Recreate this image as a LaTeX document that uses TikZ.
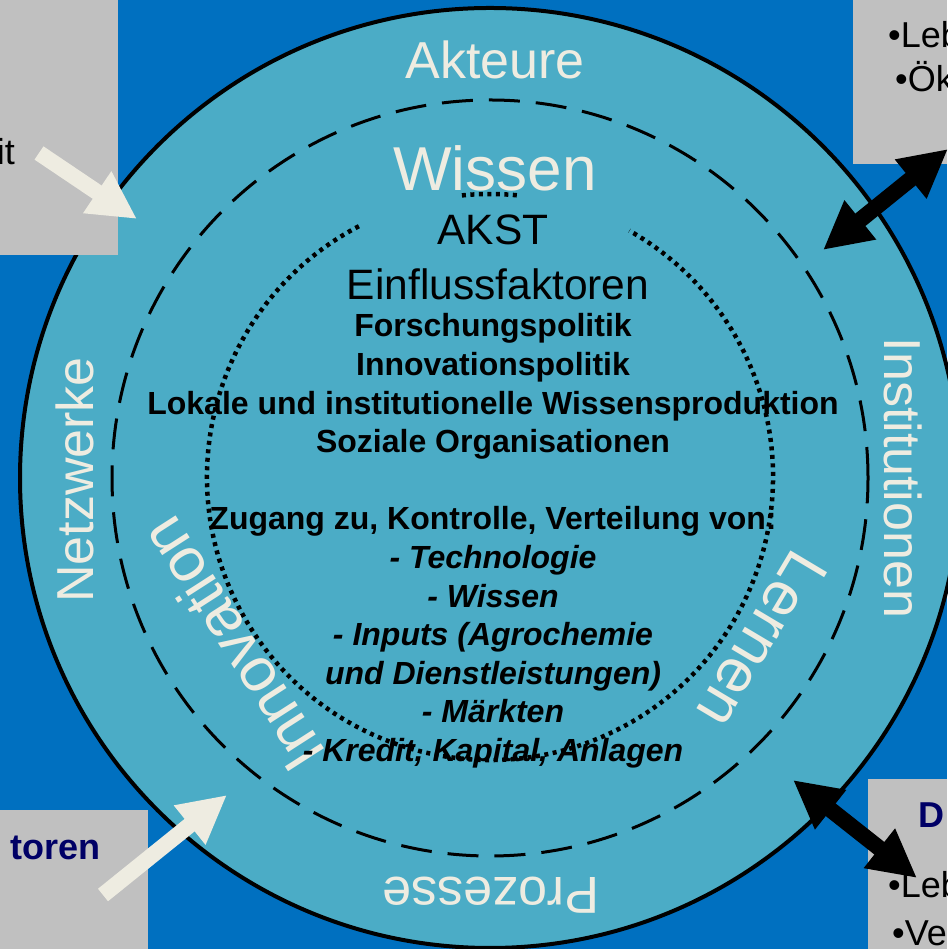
\documentclass[tikz,border=0pt]{standalone}
\usepackage{fontspec}
\setmainfont{Liberation Sans}
\usetikzlibrary{arrows.meta}
\definecolor{bgblue}{HTML}{0070C0}
\definecolor{ringteal}{HTML}{4BACC6}
\definecolor{boxgray}{HTML}{C0C0C0}
\definecolor{cream}{HTML}{EEECE1}
\definecolor{navy}{HTML}{000066}

\begin{document}
\begin{tikzpicture}[x=1pt,y=1pt,
  outerlabel/.style={text=cream,font=\fontsize{52}{62}\selectfont,inner sep=0pt},
  innerlabel/.style={text=cream,font=\fontsize{62}{74}\selectfont,inner sep=0pt},
  centertext/.style={font=\fontsize{42.5}{50}\selectfont,inner sep=0pt},
  boxtext/.style={font=\fontsize{36}{43}\selectfont,inner sep=0pt},
  boxhead/.style={text=navy,font=\fontsize{36}{43}\selectfont\bfseries,inner sep=0pt},
  dottedring/.style={line width=4.5pt,dash pattern=on 4pt off 4.5pt},
  whitearrow/.style={draw=cream,line width=16pt,-{Triangle[width=47pt,length=48pt]}},
  blackarrow/.style={draw=black,line width=16pt,{Triangle[width=47pt,length=48pt]}-{Triangle[width=47pt,length=48pt]}}]

\useasboundingbox (0,0) rectangle (947,949);
\fill[bgblue] (0,0) rectangle (947,949);

% ----------------------------------------------------------
% Rings
% ----------------------------------------------------------
\coordinate (mid) at (490,471);
\draw[line width=4pt,fill=ringteal] (mid) circle[radius=470];
\draw[line width=3pt,dash pattern=on 31pt off 16pt] (mid) circle[radius=378];

% dotted inner ring, partly hidden behind the title block
\draw[dottedring]
  (490,472) ++(117.6:283) arc[start angle=117.6,end angle=420.5,radius=283];
\draw[dottedring]
  (490,472) ++(95.7:283) arc[start angle=95.7,end angle=83.9,radius=283];

% ----------------------------------------------------------
% Ring labels
% ----------------------------------------------------------
\node[outerlabel] (akteure) at (495,889) {Akteure};
\node[outerlabel,rotate=90] (netzwerke) at (75,469) {Netzwerke};
\node[outerlabel,rotate=-90] (institutionen) at (903,471) {Institutionen};
\node[outerlabel,rotate=180] (prozesse) at (491,54) {Prozesse};

\node[innerlabel] (wissen) at (495,781) {Wissen};
\node[innerlabel,rotate=122.7] (innovation) at (232,304) {Innovation};
\node[innerlabel,rotate=-120.8] (lernen) at (762,309) {Lernen};

% ----------------------------------------------------------
% Centre text
% ----------------------------------------------------------
\node[centertext] (akst) at (493,719) {AKST};
\node[centertext] (einfluss) at (498,665) {Einflussfaktoren};
\node[font=\fontsize{32}{38.6}\selectfont\bfseries,align=center,inner sep=0pt] (faktoren) at (493,408)
  {Forschungspolitik\\Innovationspolitik\\Lokale und institutionelle Wissensproduktion\\Soziale Organisationen\\[38.6pt]
   Zugang zu, Kontrolle, Verteilung von:\\\itshape - Technologie\\\itshape - Wissen\\\itshape - Inputs (Agrochemie\\
   \itshape und Dienstleistungen)\\\itshape - Märkten\\\itshape - Kredit, Kapital, Anlagen};

% ----------------------------------------------------------
% Side boxes
% ----------------------------------------------------------
\fill[boxgray] (0,694) rectangle (118,949);
\fill[boxgray] (853,785) rectangle (947,949);
\fill[boxgray] (0,0) rectangle (148,139);
\fill[boxgray] (868,0) rectangle (947,170);

\node[boxtext,anchor=base east] (tlword) at (15,784) {it};
\node[boxtext,anchor=base west] (trone) at (888,901) {•Leb};
\node[boxtext,anchor=base west] (trtwo) at (895,857) {•Ök};
\node[boxhead,anchor=base east] (blhead) at (101,89) {toren};
\node[boxhead,anchor=base west] (brhead) at (918,121) {D};
\node[boxtext,anchor=base west] (brone) at (888,51) {•Leb};
\node[boxtext,anchor=base west] (brtwo) at (892,4) {•Ve};

% ----------------------------------------------------------
% Arrows
% ----------------------------------------------------------
\coordinate (tltail) at (39,796);
\coordinate (tltip) at (137,730);
\coordinate (bltail) at (103,54);
\coordinate (bltip) at (227,154);
\coordinate (trin) at (823,699);
\coordinate (trout) at (948,800);
\coordinate (brin) at (793,169);
\coordinate (brout) at (917,71);

\draw[whitearrow] (tltail) -- (tltip);
\draw[whitearrow] (bltail) -- (bltip);
\draw[blackarrow] (trin) -- (trout);
\draw[blackarrow] (brin) -- (brout);

\end{tikzpicture}
\end{document}
